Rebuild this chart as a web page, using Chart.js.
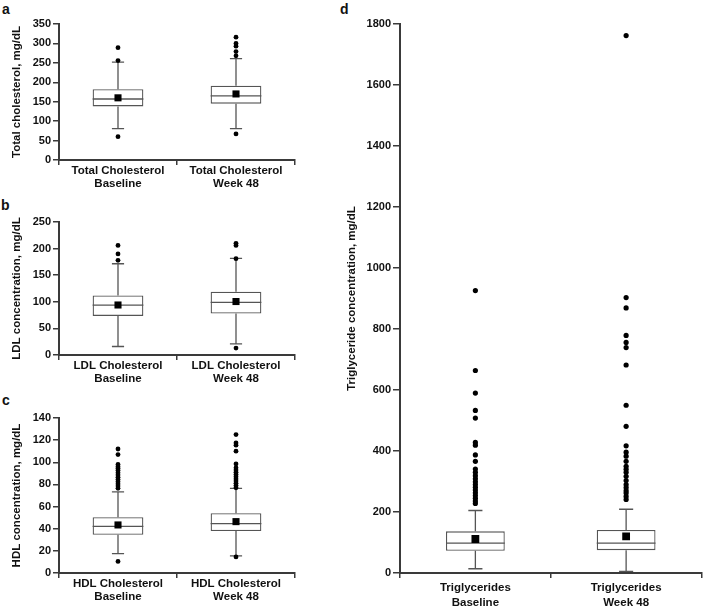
<!DOCTYPE html>
<html>
<head>
<meta charset="utf-8">
<script src="https://cdn.jsdelivr.net/npm/chart.js@4/dist/chart.umd.min.js"></script>
<style>
  body { margin: 0; background: #fff; }
  .wrap { position: relative; width: 707px; height: 610px; overflow: hidden; }
  canvas { position: absolute; }
  .letter { position: absolute; font: bold 14px Arial, "Liberation Sans", sans-serif; line-height: 1; color: #111; }
</style>
</head>
<body>
<div class="wrap">
  <div class="letter" style="left:2px; top:2px;">a</div>
  <div class="letter" style="left:1px; top:198px;">b</div>
  <div class="letter" style="left:2px; top:393px;">c</div>
  <div class="letter" style="left:340px; top:2px;">d</div>
  <canvas id="chartA" width="300" height="195" style="left:0; top:0;"></canvas>
  <canvas id="chartB" width="300" height="195" style="left:0; top:195px;"></canvas>
  <canvas id="chartC" width="300" height="220" style="left:0; top:390px;"></canvas>
  <canvas id="chartD" width="367" height="610" style="left:340px; top:0;"></canvas>
</div>
<script>
const AXIS_COLOR = `#3a3a3a`;
const BOX_COLOR = `#555555`;
const FONT_FAMILY = `Arial, "Liberation Sans", sans-serif`;

const TIME_POINTS = [`Baseline`, `Week 48`];

// a - total cholesterol
const TC_GROUP = `Total Cholesterol`;
const TC_Q1 = [138, 145];
const TC_MEDIAN = [157, 165];
const TC_Q3 = [182, 191];
const TC_LOW = [81, 81];
const TC_HIGH = [252, 261];
const TC_MEAN = [160, 170];
const TC_OUT_BASELINE = [289, 256, 60];
const TC_OUT_WEEK48 = [316, 300, 293, 279, 268, 67];

// b - LDL
const LDL_GROUP = `LDL Cholesterol`;
const LDL_Q1 = [73.5, 78];
const LDL_MEDIAN = [93.6, 99];
const LDL_Q3 = [112, 119];
const LDL_LOW = [16, 21];
const LDL_HIGH = [171.5, 181.5];
const LDL_MEAN = [94, 100.5];
const LDL_OUT_BASELINE = [206, 190, 178];
const LDL_OUT_WEEK48 = [210, 206, 181, 13];

// c - HDL
const HDL_GROUP = `HDL Cholesterol`;
const HDL_Q1 = [34.6, 38];
const HDL_MEDIAN = [42.2, 44.6];
const HDL_Q3 = [50.3, 54];
const HDL_LOW = [17.5, 15.4];
const HDL_HIGH = [73.2, 76.5];
const HDL_MEAN = [43.4, 46.4];
const HDL_OUT_BASELINE = [112, 107, 98, 96, 94.5, 92.5, 90.5, 88.5, 86.5, 84.5, 82.5, 80.5, 78.5, 76.5, 10.5];
const HDL_OUT_WEEK48 = [125, 117.5, 115.5, 110, 98.5, 95, 93, 91, 89, 87, 85, 83, 81, 79, 77, 14.5];

// d - triglycerides
const TG_GROUP = `Triglycerides`;
const TG_Q1 = [73, 75];
const TG_MEDIAN = [98, 98];
const TG_Q3 = [136.6, 141];
const TG_LOW = [14, 5.5];
const TG_HIGH = [205, 209];
const TG_MEAN = [111.5, 120];
const TG_OUT_BASELINE = [926, 664, 590, 533, 508, 428, 419, 387, 366, 341, 330, 319, 309, 299, 290, 281, 272, 263, 254, 245, 236, 228];
const TG_OUT_WEEK48 = [1762, 903, 869, 779, 756, 739, 682, 550, 481, 417, 396, 383, 366, 350, 340, 330, 317, 303, 290, 280, 270, 262, 251, 241];

const toPoints = (category, values) => values.map((value) => ({x: category, y: value}));

// whiskers and median line are drawn right after the boxes, before the points
const makeWhiskerPlugin = (stats) => ({
  id: `whiskers`,
  afterDatasetDraw(chart, args) {
    if (args.index !== 0) {
      return;
    }
    const ctx = chart.ctx;
    const yScale = chart.scales.y;

    ctx.save();
    ctx.strokeStyle = BOX_COLOR;
    ctx.lineWidth = 1.3;
    args.meta.data.forEach((bar, i) => {
      const x = bar.x;
      const half = bar.width / 2;
      const cap = bar.width * 0.12;
      const yMedian = yScale.getPixelForValue(stats.median[i]);
      const yQ1 = yScale.getPixelForValue(stats.q1[i]);
      const yQ3 = yScale.getPixelForValue(stats.q3[i]);
      const yLow = yScale.getPixelForValue(stats.low[i]);
      const yHigh = yScale.getPixelForValue(stats.high[i]);

      ctx.beginPath();
      ctx.moveTo(x - half, yMedian);
      ctx.lineTo(x + half, yMedian);
      ctx.moveTo(x, yQ3);
      ctx.lineTo(x, yHigh);
      ctx.moveTo(x - cap, yHigh);
      ctx.lineTo(x + cap, yHigh);
      ctx.moveTo(x, yQ1);
      ctx.lineTo(x, yLow);
      ctx.moveTo(x - cap, yLow);
      ctx.lineTo(x + cap, yLow);
      ctx.stroke();
    });
    ctx.restore();
  }
});

const makeBoxChart = (canvasId, setup) => {
  const ctx = document.getElementById(canvasId).getContext(`2d`);
  const canvasHeight = ctx.canvas.height;
  const canvasWidth = ctx.canvas.width;
  const stats = setup.stats;

  return new Chart(ctx, {
    type: `bar`,
    plugins: [makeWhiskerPlugin(stats)],
    data: {
      labels: TIME_POINTS,
      datasets: [
        {
          label: `box`,
          data: stats.q1.map((q1, i) => [q1, stats.q3[i]]),
          backgroundColor: `#ffffff`,
          borderColor: BOX_COLOR,
          borderWidth: 1.3,
          borderSkipped: false,
          barPercentage: setup.boxShare,
          categoryPercentage: 1,
          order: 3,
        },
        {
          type: `scatter`,
          label: `outliers`,
          data: toPoints(TIME_POINTS[0], setup.outBaseline).concat(toPoints(TIME_POINTS[1], setup.outWeek48)),
          pointStyle: `circle`,
          pointRadius: setup.dotRadius,
          backgroundColor: `#000000`,
          borderWidth: 0,
          order: 2,
        },
        {
          type: `scatter`,
          label: `mean`,
          data: TIME_POINTS.map((point, i) => ({x: point, y: stats.mean[i]})),
          pointStyle: `rect`,
          pointRadius: setup.meanRadius,
          backgroundColor: `#000000`,
          borderWidth: 0,
          order: 1,
        },
      ],
    },
    options: {
      responsive: false,
      animation: false,
      layout: {
        padding: {left: 0, top: setup.area.top, right: canvasWidth - setup.area.right, bottom: 0},
      },
      plugins: {
        legend: {display: false},
        tooltip: {enabled: false},
      },
      scales: {
        x: {
          type: `category`,
          offset: true,
          afterFit: (scale) => {
            scale.height = canvasHeight - setup.area.bottom;
          },
          grid: {
            offset: true,
            drawOnChartArea: false,
            drawTicks: true,
            tickLength: 5,
            color: AXIS_COLOR,
            lineWidth: 1.5,
          },
          border: {display: true, color: AXIS_COLOR, width: 2},
          ticks: {
            color: `#111111`,
            padding: setup.xPadding,
            maxRotation: 0,
            autoSkip: false,
            callback: (value, index) => [setup.group, TIME_POINTS[index]],
            font: {family: FONT_FAMILY, size: 11.5, weight: `bold`, lineHeight: setup.xLineHeight},
          },
        },
        y: {
          min: 0,
          max: setup.yMax,
          afterFit: (scale) => {
            scale.width = setup.area.left;
          },
          grid: {
            drawOnChartArea: false,
            drawTicks: true,
            tickLength: setup.yTickLength,
            color: AXIS_COLOR,
            lineWidth: 1.5,
          },
          border: {display: true, color: AXIS_COLOR, width: 2},
          ticks: {
            stepSize: setup.yStep,
            color: `#111111`,
            padding: 2,
            callback: (value) => String(value),
            font: {family: FONT_FAMILY, size: 11, weight: `bold`},
          },
          title: {
            display: true,
            text: setup.yTitle,
            color: `#111111`,
            padding: {top: setup.titlePad, bottom: 0},
            font: {family: FONT_FAMILY, size: 11.5, weight: `bold`, lineHeight: 1.2},
          },
        },
      },
    },
  });
};

makeBoxChart(`chartA`, {
  group: TC_GROUP,
  stats: {q1: TC_Q1, median: TC_MEDIAN, q3: TC_Q3, low: TC_LOW, high: TC_HIGH, mean: TC_MEAN},
  outBaseline: TC_OUT_BASELINE,
  outWeek48: TC_OUT_WEEK48,
  area: {left: 59, top: 24, right: 297, bottom: 160},
  yMax: 350,
  yStep: 50,
  yTitle: `Total cholesterol, mg/dL`,
  titlePad: 10,
  yTickLength: 6,
  xPadding: 0,
  xLineHeight: 1.1,
  boxShare: 0.43,
  dotRadius: 2.4,
  meanRadius: 5,
});

makeBoxChart(`chartB`, {
  group: LDL_GROUP,
  stats: {q1: LDL_Q1, median: LDL_MEDIAN, q3: LDL_Q3, low: LDL_LOW, high: LDL_HIGH, mean: LDL_MEAN},
  outBaseline: LDL_OUT_BASELINE,
  outWeek48: LDL_OUT_WEEK48,
  area: {left: 59, top: 27, right: 297, bottom: 160},
  yMax: 250,
  yStep: 50,
  yTitle: `LDL concentration, mg/dL`,
  titlePad: 10,
  yTickLength: 6,
  xPadding: 0,
  xLineHeight: 1.1,
  boxShare: 0.43,
  dotRadius: 2.4,
  meanRadius: 5,
});

makeBoxChart(`chartC`, {
  group: HDL_GROUP,
  stats: {q1: HDL_Q1, median: HDL_MEDIAN, q3: HDL_Q3, low: HDL_LOW, high: HDL_HIGH, mean: HDL_MEAN},
  outBaseline: HDL_OUT_BASELINE,
  outWeek48: HDL_OUT_WEEK48,
  area: {left: 59, top: 28, right: 297, bottom: 183},
  yMax: 140,
  yStep: 20,
  yTitle: `HDL concentration, mg/dL`,
  titlePad: 10,
  yTickLength: 6,
  xPadding: 0,
  xLineHeight: 1.1,
  boxShare: 0.43,
  dotRadius: 2.4,
  meanRadius: 5,
});

makeBoxChart(`chartD`, {
  group: TG_GROUP,
  stats: {q1: TG_Q1, median: TG_MEDIAN, q3: TG_Q3, low: TG_LOW, high: TG_HIGH, mean: TG_MEAN},
  outBaseline: TG_OUT_BASELINE,
  outWeek48: TG_OUT_WEEK48,
  area: {left: 60, top: 24, right: 365, bottom: 573},
  yMax: 1800,
  yStep: 200,
  yTitle: `Triglyceride concentration, mg/dL`,
  titlePad: 5,
  yTickLength: 7,
  xPadding: 2,
  xLineHeight: 1.3,
  boxShare: 0.39,
  dotRadius: 2.6,
  meanRadius: 5.5,
});
</script>
</body>
</html>
